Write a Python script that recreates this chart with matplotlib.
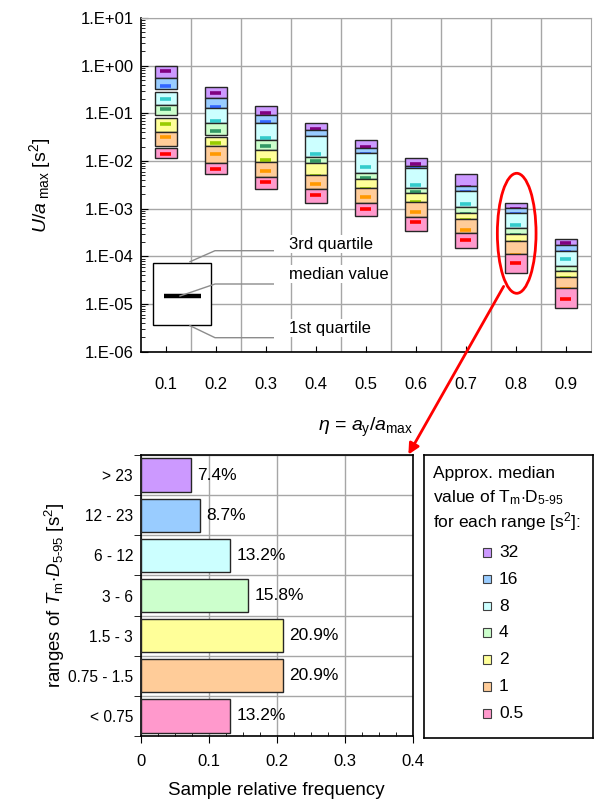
import numpy as np
import matplotlib
matplotlib.use("Agg")
import matplotlib.pyplot as plt
from matplotlib.patches import Rectangle, Ellipse, FancyArrowPatch
from matplotlib.lines import Line2D
from matplotlib.ticker import FixedLocator, FuncFormatter, LogLocator, NullFormatter

plt.rcParams["font.family"] = ["Liberation Sans", "DejaVu Sans"]
plt.rcParams["mathtext.fontset"] = "custom"
plt.rcParams["mathtext.rm"] = "Liberation Sans"
plt.rcParams["mathtext.it"] = "Liberation Sans:italic"

# ---- top chart data: quartile boxes of U/a_max per eta, one box per T_m*D range
eta = ["0.1", "0.2", "0.3", "0.4", "0.5", "0.6", "0.7", "0.8", "0.9"]
groups = ["32", "16", "8", "4", "2", "1", "0.5"]

upper_q = [
    [1.0, 0.361, 0.140, 0.0626, 0.0276, 0.0114, 0.00526, 0.00134, 0.000231],
    [0.54, 0.206, 0.092, 0.0453, 0.0185, 0.00796, 0.00299, 0.00105, 0.000173],
    [0.284, 0.127, 0.0617, 0.0328, 0.0145, 0.00703, 0.00235, 0.000824, 0.000130],
    [0.149, 0.0617, 0.0282, 0.0123, 0.00552, 0.00268, 0.00110, 0.000400, 0.0000629],
    [0.080, 0.0323, 0.0170, 0.00908, 0.00413, 0.00216, 0.000801, 0.000291, 0.0000494],
    [0.041, 0.0206, 0.00966, 0.00516, 0.00272, 0.00140, 0.000600, 0.000210, 0.0000370],
    [0.0185, 0.00895, 0.00473, 0.00256, 0.00134, 0.000679, 0.000305, 0.000111, 0.0000218],
]
lower_q = [
    [0.54, 0.206, 0.092, 0.0453, 0.0185, 0.00796, 0.00299, 0.00105, 0.000173],
    [0.32, 0.127, 0.0617, 0.0328, 0.0145, 0.00703, 0.00235, 0.000824, 0.000130],
    [0.149, 0.0617, 0.0282, 0.0123, 0.00552, 0.00268, 0.00110, 0.000400, 0.0000629],
    [0.092, 0.0351, 0.0170, 0.00908, 0.00413, 0.00216, 0.000801, 0.000291, 0.0000494],
    [0.041, 0.0206, 0.00966, 0.00516, 0.00272, 0.00140, 0.000600, 0.000210, 0.0000370],
    [0.0206, 0.0092, 0.00473, 0.00256, 0.00134, 0.000679, 0.000305, 0.000111, 0.0000218],
    [0.0117, 0.00526, 0.00255, 0.00132, 0.000703, 0.000341, 0.000152, 0.0000455, 0.0000083],
]
median_q = [
    [0.78, 0.270, 0.100, 0.0469, 0.0197, 0.00865, 0.0029, 0.00100, 0.000190],
    [0.38, 0.137, 0.0667, 0.030, 0.0140, 0.0068, 0.0022, 0.00078, 0.000125],
    [0.20, 0.070, 0.0305, 0.0142, 0.00738, 0.00314, 0.00124, 0.000455, 0.0000883],
    [0.125, 0.0432, 0.0209, 0.0100, 0.00434, 0.00227, 0.00077, 0.00028, 0.0000470],
    [0.060, 0.0235, 0.0107, 0.0049, 0.0026, 0.00135, 0.00057, 0.00020, 0.0000350],
    [0.032, 0.0142, 0.00632, 0.00330, 0.00173, 0.000841, 0.000357, 0.000105, 0.0000205],
    [0.014, 0.0069, 0.00363, 0.00192, 0.00100, 0.000534, 0.000221, 0.0000716, 0.0000128],
]

fills = ["#CC99FF", "#99CCFF", "#CCFFFF", "#CCFFCC", "#FFFF99", "#FFCC99", "#FF99CC"]
marks = ["#800080", "#3366FF", "#33CCCC", "#339966", "#99CC00", "#FF9900", "#FF0000"]

# ---- bottom chart data
ranges = ["> 23", "12 - 23", "6 - 12", "3 - 6", "1.5 - 3", "0.75 - 1.5", "< 0.75"]
rel_freq = [0.074, 0.087, 0.132, 0.158, 0.209, 0.209, 0.132]

W, H = 596, 805
HY = "\u2010"  # plain hyphen inside subscripts


def fx(x):
    return x / W


def fy(y):
    return 1 - y / H


fig = plt.figure(figsize=(W / 100, H / 100), dpi=100)
grid_c = "#a6a6a6"

# ================= top chart =================
ax1 = fig.add_axes([fx(140.7), fy(351.8), 450 / W, 333.9 / H])
ax1.set_yscale("log")
ax1.set_ylim(1e-6, 1e1)
ax1.set_xlim(0.5, 9.5)
xs = np.arange(1, len(eta) + 1)

for i in range(len(groups)):
    lo = np.array(lower_q[i])
    hi = np.array(upper_q[i])
    ax1.bar(xs, hi - lo, bottom=lo, width=0.44, color=fills[i],
            edgecolor="#262626", linewidth=1.0, zorder=3 + 2 * i)
    ax1.hlines(median_q[i], xs - 0.11, xs + 0.11, colors=marks[i],
               linewidth=2.6, zorder=4 + 2 * i)

ax1.set_xticks(xs)
ax1.set_xticklabels(eta, fontsize=12)
ax1.xaxis.set_minor_locator(FixedLocator(np.arange(1.5, 9.5, 1.0)))
ax1.yaxis.set_major_locator(LogLocator(base=10, numticks=12))
ax1.yaxis.set_minor_locator(LogLocator(base=10, subs=np.arange(2, 10), numticks=12))
ax1.yaxis.set_minor_formatter(NullFormatter())


def sci(v, pos):
    e = int(round(np.log10(v)))
    return f"1.E{'+' if e >= 0 else '-'}{abs(e):02d}"


ax1.yaxis.set_major_formatter(FuncFormatter(sci))
ax1.tick_params(axis="y", which="major", labelsize=12, direction="in", length=5, pad=5)
ax1.tick_params(axis="y", which="minor", direction="in", length=3)
ax1.tick_params(axis="x", which="major", direction="in", length=4, pad=18)
ax1.tick_params(axis="x", which="minor", length=0)
ax1.grid(True, axis="y", which="major", color=grid_c, linewidth=1, zorder=0)
ax1.grid(True, axis="x", which="minor", color=grid_c, linewidth=1, zorder=0)
ax1.set_axisbelow(True)
for s in ["top", "right"]:
    ax1.spines[s].set_color(grid_c)
for s in ["left", "bottom"]:
    ax1.spines[s].set_color("black")
    ax1.spines[s].set_linewidth(1.2)

fig.text(fx(365.7), fy(427), r"$\eta$ = $a_{\mathrm{y}}/a_{\mathrm{max}}$",
         ha="center", va="center", fontsize=14)
fig.text(fx(40), fy(185), r"$U/a_{\mathrm{\ max}}$ [s$^{2}$]", rotation=90,
         ha="center", va="center", fontsize=14)

# key for the quartile box
fig.add_artist(Rectangle((fx(153.3), fy(325)), (210.7 - 153.3) / W, (325 - 262.7) / H,
                         transform=fig.transFigure, facecolor="white",
                         edgecolor="black", linewidth=1, zorder=20))
fig.add_artist(Line2D([fx(164), fx(200.7)], [fy(296), fy(296)], color="black",
                      linewidth=3.2, solid_capstyle="butt", zorder=21))
leaders = [
    ([190, 215, 273.3], [261.7, 250.7, 250.7], "3rd quartile", 244),
    ([180, 215, 273.3], [296, 284, 284], "median value", 274),
    ([190, 215, 273.3], [325.7, 337.7, 337.7], "1st quartile", 328),
]
for lx, ly, txt, ty in leaders:
    fig.add_artist(Line2D([fx(v) for v in lx], [fy(v) for v in ly],
                          color="#8c8c8c", linewidth=1, zorder=22))
    fig.text(fx(289), fy(ty), txt, ha="left", va="center", fontsize=12, zorder=23,
             bbox=dict(facecolor="white", edgecolor="none", pad=1))

# red ellipse and arrow
fig.add_artist(Ellipse((fx(516.7), fy(233.3)), 38.7 / W, 120 / H,
                       transform=fig.transFigure, fill=False, edgecolor="red",
                       linewidth=2, zorder=30))
fig.add_artist(FancyArrowPatch((fx(505), fy(284)), (fx(407), fy(457)),
                               transform=fig.transFigure, arrowstyle="-|>",
                               mutation_scale=16, color="red", linewidth=2, zorder=30))

# ================= bottom chart =================
ax2 = fig.add_axes([fx(140.7), fy(736), 272 / W, 281 / H])
ys = np.arange(len(ranges))[::-1]
ax2.barh(ys, rel_freq, height=0.83, color=fills, edgecolor="#262626",
         linewidth=1, zorder=3)
for y, v in zip(ys, rel_freq):
    ax2.text(v + 0.0095, y, f"{v * 100:.1f}%", ha="left", va="center", fontsize=12.5)
ax2.set_xlim(0, 0.4)
ax2.set_ylim(-0.5, len(ranges) - 0.5)
ax2.set_xticks([0, 0.1, 0.2, 0.3, 0.4])
ax2.set_xticklabels(["0", "0.1", "0.2", "0.3", "0.4"], fontsize=12)
ax2.xaxis.set_minor_locator(FixedLocator(np.arange(0, 0.401, 0.025)))
ax2.set_yticks(ys)
ax2.set_yticklabels(ranges, fontsize=11.2)
ax2.yaxis.set_minor_locator(FixedLocator(np.arange(-0.5, len(ranges), 1.0)))
ax2.tick_params(axis="y", which="major", length=0, pad=5.5)
ax2.tick_params(axis="y", which="minor", direction="out", length=5)
ax2.tick_params(axis="x", which="major", direction="out", length=5, pad=8)
ax2.tick_params(axis="x", which="minor", direction="in", length=3)
ax2.grid(True, axis="x", which="major", color=grid_c, linewidth=1, zorder=0)
ax2.grid(True, axis="y", which="minor", color=grid_c, linewidth=1, zorder=0)
ax2.set_axisbelow(True)
for s in ax2.spines.values():
    s.set_color("black")
    s.set_linewidth(1.2)

fig.text(fx(276.7), fy(790), "Sample relative frequency", ha="center", va="center",
         fontsize=13.5)
fig.text(fx(55), fy(595),
         r"ranges of $T_{\mathrm{m}}{\cdot}D_{\mathrm{5" + HY + r"95}}$ [s$^{2}$]",
         rotation=90, ha="center", va="center", fontsize=13.5)

# ================= legend box =================
ax3 = fig.add_axes([fx(424), fy(738.3), 168.7 / W, 283.3 / H])
ax3.set_xticks([])
ax3.set_yticks([])
for s in ax3.spines.values():
    s.set_color("black")
    s.set_linewidth(1.2)
fig.text(fx(433), fy(473), "Approx. median", ha="left", va="center", fontsize=12.5)
fig.text(fx(433), fy(498),
         r"value of T$_{\mathrm{m}}{\cdot}$D$_{\mathrm{5" + HY + r"95}}$",
         ha="left", va="center", fontsize=12.5)
fig.text(fx(433), fy(522), r"for each range [s$^{2}$]:", ha="left", va="center",
         fontsize=12.5)
row_y = [552.7, 579.3, 606, 632.7, 659.7, 686.7, 713.7]
for g, c, ry in zip(groups, fills, row_y):
    fig.add_artist(Rectangle((fx(482.7), fy(ry + 4)), 8.5 / W, 8.5 / H,
                             transform=fig.transFigure, facecolor=c,
                             edgecolor="#404040", linewidth=0.8))
    fig.text(fx(499), fy(ry), g, ha="left", va="center", fontsize=12.5)

fig.savefig("out.png", dpi=100)
